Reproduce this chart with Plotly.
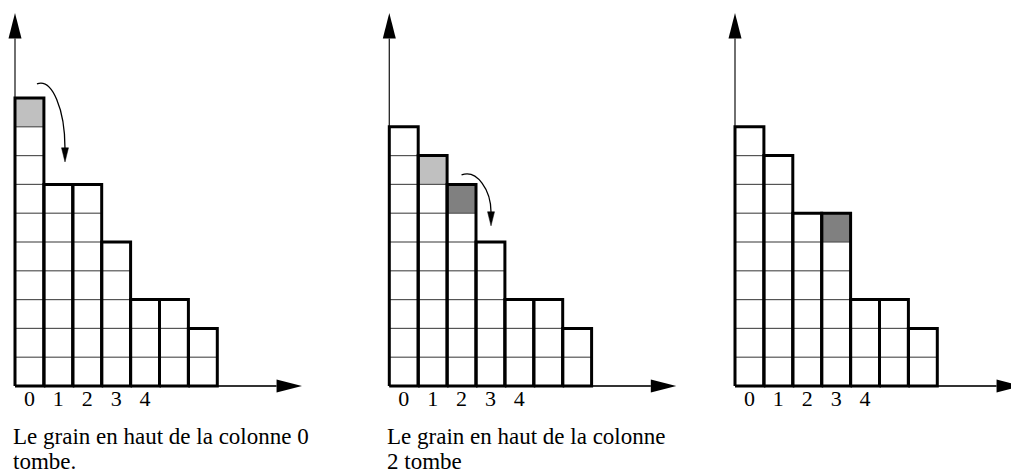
import plotly.graph_objects as go

# ---- data -------------------------------------------------------------
heights_1 = [10, 7, 7, 5, 3, 3, 2]
heights_2 = [9, 8, 7, 5, 3, 3, 2]
heights_3 = [9, 8, 6, 6, 3, 3, 2]
column_labels = ["0", "1", "2", "3", "4"]
light_cols = [[0], [1], []]      # column whose top grain is light grey
dark_cols = [[], [2], [3]]       # column whose top grain is dark grey
falls = [(0, 1), (2, 3), None]   # grain falls from column -> column
captions = [["Le grain en haut de la colonne 0", "tombe."],
            ["Le grain en haut de la colonne", "2 tombe"],
            []]

panels = [heights_1, heights_2, heights_3]

# ---- layout geometry (pixels) -----------------------------------------
W, H = 1011, 474
CW, CH = 28.9, 28.8           # cell size in px
BASE_PX = 386                 # baseline y (from top)
origins_px = [15, 389.3, 735]
domains_px = [(0, 345), (350, 700), (705, 1011)]
X_AXIS_LEN, Y_AXIS_LEN = 9.93, 12.95
HEAD_L, HEAD_W = 0.88, 0.45
CAPTION_LINES_PX = [436, 461]
# fall arrow offsets: start (dx, dy) above source top, tip (dx, dy) above target top
fall_style = [((0.76, 0.49), (0.73, 0.78), 0.60),
              ((0.50, 0.33), (0.52, 0.56), 0.60)]

SERIF = "Liberation Serif, Times New Roman, serif"

fig = go.Figure()
shapes = []
annotations = []
layout_axes = {}

for p, heights in enumerate(panels):
    sfx = "" if p == 0 else str(p + 1)
    xa, ya = "x" + sfx, "y" + sfx
    n = len(heights)
    cols_x = [i + 0.5 for i in range(n)]

    # column fills (white)
    fig.add_trace(go.Bar(x=cols_x, y=heights, width=1, xaxis=xa, yaxis=ya,
                         marker=dict(color="white", line=dict(width=0)),
                         hoverinfo="skip", showlegend=False))
    # highlighted grains
    for cols, color in ((light_cols[p], "#c0c0c0"), (dark_cols[p], "#808080")):
        if cols:
            fig.add_trace(go.Bar(x=[c + 0.5 for c in cols], y=[1] * len(cols),
                                 base=[heights[c] - 1 for c in cols], width=1,
                                 xaxis=xa, yaxis=ya,
                                 marker=dict(color=color, line=dict(width=0)),
                                 hoverinfo="skip", showlegend=False))
    # thin dividers between grains
    dx, dy = [], []
    for i, h in enumerate(heights):
        for k in range(1, h):
            dx += [i, i + 1, None]
            dy += [k, k, None]
    fig.add_trace(go.Scatter(x=dx, y=dy, mode="lines", xaxis=xa, yaxis=ya,
                             line=dict(color="#555555", width=1.2),
                             hoverinfo="skip", showlegend=False))
    # x axis line + arrow
    fig.add_trace(go.Scatter(x=[0, X_AXIS_LEN - HEAD_L], y=[0, 0], mode="lines",
                             xaxis=xa, yaxis=ya, line=dict(color="#333333", width=2),
                             hoverinfo="skip", showlegend=False))
    fig.add_trace(go.Scatter(x=[X_AXIS_LEN - HEAD_L, X_AXIS_LEN, X_AXIS_LEN - HEAD_L, X_AXIS_LEN - HEAD_L],
                             y=[-HEAD_W / 2, 0, HEAD_W / 2, -HEAD_W / 2],
                             mode="lines", fill="toself", fillcolor="black",
                             line=dict(width=0, color="black"), xaxis=xa, yaxis=ya,
                             hoverinfo="skip", showlegend=False))
    # y axis line + arrow
    fig.add_trace(go.Scatter(x=[0, 0], y=[0, Y_AXIS_LEN - HEAD_L], mode="lines",
                             xaxis=xa, yaxis=ya, line=dict(color="#222222", width=1.3),
                             hoverinfo="skip", showlegend=False))
    fig.add_trace(go.Scatter(x=[-HEAD_W / 2, 0, HEAD_W / 2, -HEAD_W / 2],
                             y=[Y_AXIS_LEN - HEAD_L, Y_AXIS_LEN, Y_AXIS_LEN - HEAD_L, Y_AXIS_LEN - HEAD_L],
                             mode="lines", fill="toself", fillcolor="black",
                             line=dict(width=0, color="black"), xaxis=xa, yaxis=ya,
                             hoverinfo="skip", showlegend=False))
    # thick column outlines
    ox, oy = [], []
    for i, h in enumerate(heights):
        ox += [i, i, i + 1, i + 1, i, None]
        oy += [0, h, h, 0, 0, None]
    fig.add_trace(go.Scatter(x=ox, y=oy, mode="lines", xaxis=xa, yaxis=ya,
                             line=dict(color="black", width=3),
                             hoverinfo="skip", showlegend=False))
    # column index labels
    fig.add_trace(go.Scatter(x=[i + 0.5 for i in range(len(column_labels))],
                             y=[-0.5] * len(column_labels), text=column_labels,
                             mode="text", xaxis=xa, yaxis=ya,
                             textfont=dict(family=SERIF, size=22, color="black"),
                             hoverinfo="skip", showlegend=False))
    # caption (one annotation per line)
    for line_text, ypx in zip(captions[p], CAPTION_LINES_PX):
        annotations.append(dict(text=line_text, x=-3 / CW, y=(BASE_PX - ypx) / CH,
                                xref=xa, yref=ya, xanchor="left", yanchor="middle",
                                align="left", showarrow=False, borderpad=0,
                                font=dict(family=SERIF, size=23, color="black")))
    # falling-grain curved arrow
    if falls[p] is not None:
        src, dst = falls[p]
        (sdx, sdy), (tdx, tdy), k = fall_style[p]
        x0, y0 = src + sdx, heights[src] + sdy
        xt, yt = dst + tdx, heights[dst] + tdy
        hl = 0.47
        x3, y3 = xt, yt + hl
        x1, y1 = x0 + 0.53, y0 + 0.2
        x2, y2 = x3 + 0.0, y3 + k * (y0 - y3)
        shapes.append(dict(type="path", xref=xa, yref=ya,
                           path=f"M {x0},{y0} C {x1},{y1} {x2},{y2} {x3},{y3}",
                           line=dict(color="black", width=1.3)))
        shapes.append(dict(type="path", xref=xa, yref=ya,
                           path=f"M {x3 - 0.12},{y3 + 0.02} L {x3 + 0.12},{y3 + 0.02} L {xt},{yt} Z",
                           fillcolor="black", line=dict(color="black", width=0.5)))

    o = origins_px[p]
    d0, d1 = domains_px[p]
    layout_axes["xaxis" + sfx] = dict(domain=[d0 / W, d1 / W],
                                      range=[(d0 - o) / CW, (d1 - o) / CW],
                                      visible=False, fixedrange=True, anchor=ya)
    layout_axes["yaxis" + sfx] = dict(domain=[0, 1],
                                      range=[-(H - BASE_PX) / CH, BASE_PX / CH],
                                      visible=False, fixedrange=True, anchor=xa)

fig.update_layout(width=W, height=H, margin=dict(l=0, r=0, t=0, b=0),
                  paper_bgcolor="white", plot_bgcolor="white",
                  barmode="overlay", bargap=0, showlegend=False,
                  shapes=shapes, annotations=annotations, **layout_axes)

fig.write_html("out.html", config={"displayModeBar": False, "staticPlot": True},
               post_script="document.body.style.margin='0';document.body.style.padding='0';document.body.style.overflow='hidden';")
